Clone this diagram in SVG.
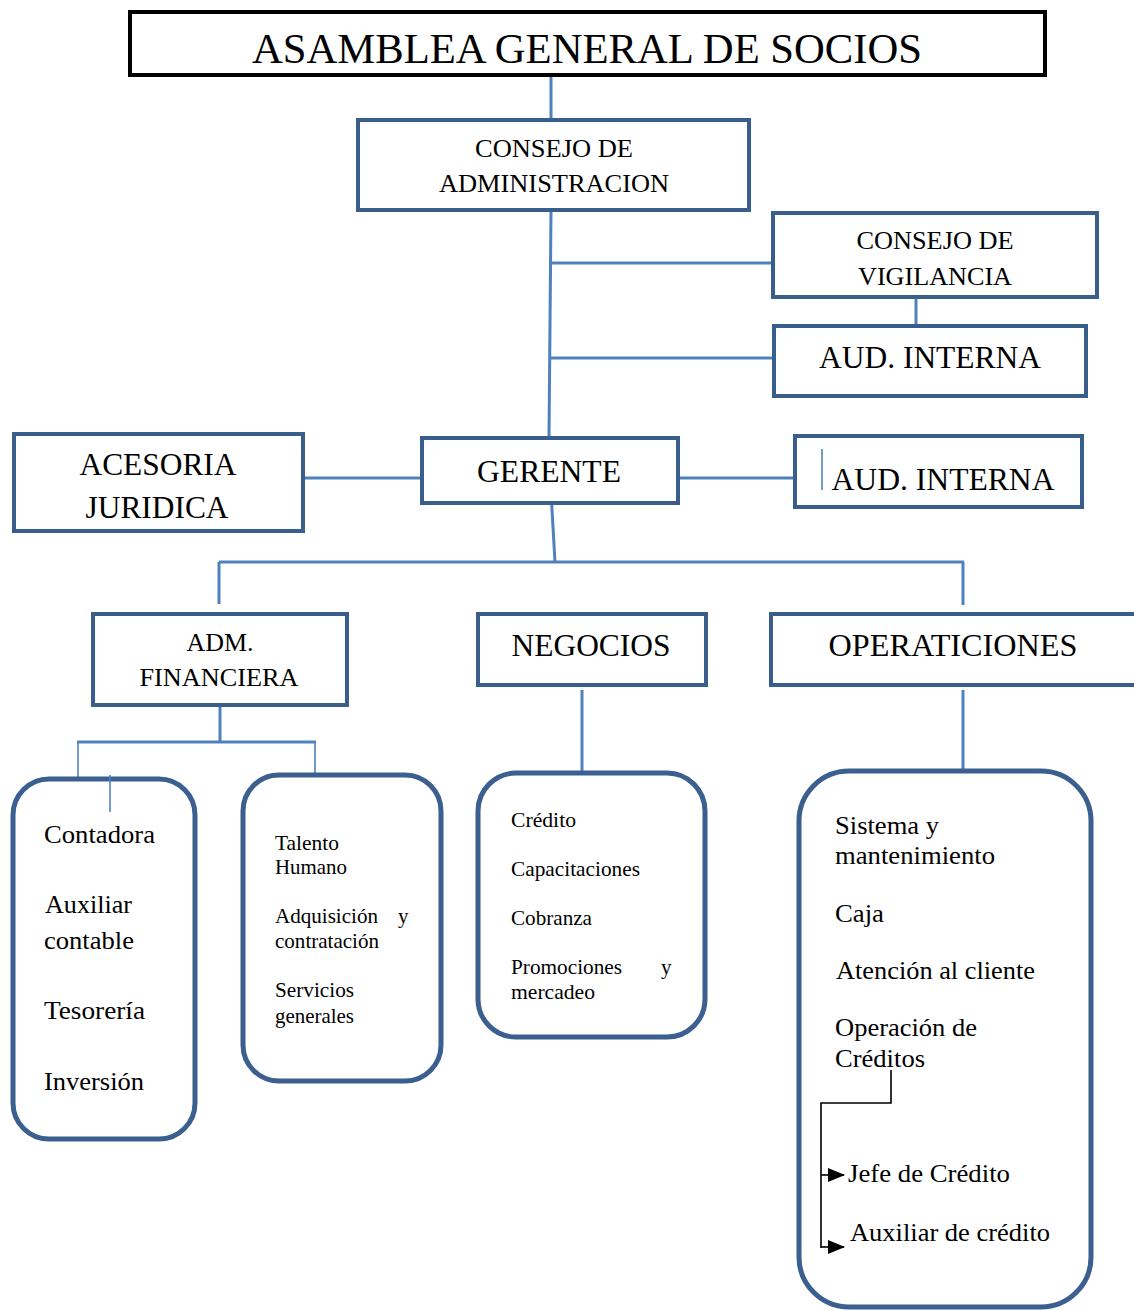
<svg xmlns="http://www.w3.org/2000/svg" width="1134" height="1310" viewBox="0 0 1134 1310" font-family="'Liberation Serif', 'Times New Roman', serif">
  <style>
    text { font-family: "Liberation Serif", "Times New Roman", serif; fill: #000; }
    .box { fill: #fff; stroke: #3a5e8c; stroke-width: 4; }
    .top { fill: #fff; stroke: #000; stroke-width: 4; }
    .round { fill: #fff; stroke: #3b5f8e; stroke-width: 5; }
    .link { fill: none; stroke: #4f81bd; stroke-width: 3; }
    .thin { fill: none; stroke: #4f81bd; stroke-width: 1.6; }
    .blk { fill: none; stroke: #000; stroke-width: 1.6; }
    .c { text-anchor: middle; }
    .s42 { font-size: 42px; }
    .s31 { font-size: 31px; }
    .s26 { font-size: 26px; }
    .s21 { font-size: 21px; }
  </style>
  <defs>
    <marker id="tri" markerWidth="17" markerHeight="14" refX="16" refY="7" orient="auto" markerUnits="userSpaceOnUse">
      <path d="M0,0 L17,7 L0,14 Z" fill="#000"/>
    </marker>
  </defs>

  <!-- connectors -->
  <g id="connectors">
    <line class="link" x1="551" y1="76" x2="551" y2="119"/>
    <line class="link" x1="551" y1="211" x2="549" y2="438"/>
    <line class="link" x1="549" y1="263" x2="773" y2="263"/>
    <line class="link" x1="916" y1="298" x2="916" y2="326"/>
    <line class="link" x1="550" y1="358" x2="774" y2="358"/>
    <line class="link" x1="303" y1="478" x2="422" y2="478"/>
    <line class="link" x1="678" y1="478" x2="795" y2="478"/>
    <line class="link" x1="551" y1="492" x2="555" y2="562"/>
    <line class="link" x1="219" y1="562" x2="964" y2="562"/>
    <line class="link" x1="219" y1="562" x2="219" y2="604"/>
    <line class="link" x1="963" y1="562" x2="963" y2="605"/>
    <line class="link" x1="220" y1="706" x2="220" y2="742"/>
    <line class="link" x1="77" y1="742" x2="316" y2="742"/>
    <line class="thin" x1="78" y1="742" x2="78" y2="780"/>
    <line class="thin" x1="315" y1="742" x2="315" y2="778"/>
    <line class="link" x1="582" y1="690" x2="582" y2="772"/>
    <line class="link" x1="963" y1="690" x2="963" y2="770"/>
  </g>

  <g id="asamblea">
    <rect class="top" x="130" y="12" width="915" height="63"/>
    <text class="c s42" x="587" y="63" textLength="670" lengthAdjust="spacingAndGlyphs">ASAMBLEA GENERAL DE SOCIOS</text>
  </g>

  <g id="consejo-admin">
    <rect class="box" x="358" y="120" width="391" height="90"/>
    <text class="c s26" x="554" y="157" textLength="158" lengthAdjust="spacingAndGlyphs">CONSEJO DE</text>
    <text class="c s26" x="554" y="192" textLength="230" lengthAdjust="spacingAndGlyphs">ADMINISTRACION</text>
  </g>

  <g id="consejo-vigilancia">
    <rect class="box" x="773" y="213" width="324" height="84"/>
    <text class="c s26" x="935" y="249" textLength="157" lengthAdjust="spacingAndGlyphs">CONSEJO DE</text>
    <text class="c s26" x="935" y="285" textLength="154" lengthAdjust="spacingAndGlyphs">VIGILANCIA</text>
  </g>

  <g id="aud-interna-1">
    <rect class="box" x="774" y="326" width="312" height="70"/>
    <text class="c s31" x="930" y="368" textLength="222" lengthAdjust="spacingAndGlyphs">AUD. INTERNA</text>
  </g>

  <g id="acesoria">
    <rect class="box" x="14" y="434" width="289" height="97"/>
    <text class="c s31" x="158" y="475" textLength="157" lengthAdjust="spacingAndGlyphs">ACESORIA</text>
    <text class="c s31" x="157" y="518" textLength="143" lengthAdjust="spacingAndGlyphs">JURIDICA</text>
  </g>

  <g id="gerente">
    <rect class="box" x="422" y="438" width="256" height="65"/>
    <text class="c s31" x="549" y="482" textLength="144" lengthAdjust="spacingAndGlyphs">GERENTE</text>
  </g>

  <g id="aud-interna-2">
    <rect class="box" x="795" y="436" width="287" height="71"/>
    <line class="thin" x1="822" y1="449" x2="822" y2="490"/>
    <text class="c s31" x="943" y="490" textLength="223" lengthAdjust="spacingAndGlyphs">AUD. INTERNA</text>
  </g>

  <g id="adm-financiera">
    <rect class="box" x="93" y="614" width="254" height="91"/>
    <text class="c s26" x="220" y="651" textLength="67" lengthAdjust="spacingAndGlyphs">ADM.</text>
    <text class="c s26" x="219" y="686" textLength="159" lengthAdjust="spacingAndGlyphs">FINANCIERA</text>
  </g>

  <g id="negocios">
    <rect class="box" x="478" y="614" width="228" height="71"/>
    <text class="c s31" x="591" y="656" textLength="159" lengthAdjust="spacingAndGlyphs">NEGOCIOS</text>
  </g>

  <g id="operaticiones">
    <rect class="box" x="771" y="614" width="370" height="71"/>
    <text class="c s31" x="953" y="656" textLength="249" lengthAdjust="spacingAndGlyphs">OPERATICIONES</text>
  </g>

  <g id="finanzas-lista">
    <rect class="round" x="13" y="779" width="182" height="360" rx="36"/>
    <line class="thin" x1="110" y1="775" x2="110" y2="812"/>
    <text class="s26" x="44" y="843" textLength="111" lengthAdjust="spacingAndGlyphs">Contadora</text>
    <text class="s26" x="45" y="913" textLength="87" lengthAdjust="spacingAndGlyphs">Auxiliar</text>
    <text class="s26" x="44" y="949" textLength="90" lengthAdjust="spacingAndGlyphs">contable</text>
    <text class="s26" x="44" y="1019" textLength="101" lengthAdjust="spacingAndGlyphs">Tesorería</text>
    <text class="s26" x="44" y="1090" textLength="100" lengthAdjust="spacingAndGlyphs">Inversión</text>
  </g>

  <g id="personal-lista">
    <rect class="round" x="243" y="775" width="198" height="306" rx="36"/>
    <text class="s21" x="275" y="850" textLength="64" lengthAdjust="spacingAndGlyphs">Talento</text>
    <text class="s21" x="275" y="874" textLength="72" lengthAdjust="spacingAndGlyphs">Humano</text>
    <text class="s21" x="275" y="923" textLength="103" lengthAdjust="spacingAndGlyphs">Adquisición</text>
    <text class="s21" x="398" y="923">y</text>
    <text class="s21" x="275" y="948" textLength="104" lengthAdjust="spacingAndGlyphs">contratación</text>
    <text class="s21" x="275" y="997" textLength="79" lengthAdjust="spacingAndGlyphs">Servicios</text>
    <text class="s21" x="275" y="1023" textLength="79" lengthAdjust="spacingAndGlyphs">generales</text>
  </g>

  <g id="negocios-lista">
    <rect class="round" x="478" y="773" width="227" height="264" rx="38"/>
    <text class="s21" x="511" y="827" textLength="65" lengthAdjust="spacingAndGlyphs">Crédito</text>
    <text class="s21" x="511" y="876" textLength="129" lengthAdjust="spacingAndGlyphs">Capacitaciones</text>
    <text class="s21" x="511" y="925" textLength="81" lengthAdjust="spacingAndGlyphs">Cobranza</text>
    <text class="s21" x="511" y="974" textLength="111" lengthAdjust="spacingAndGlyphs">Promociones</text>
    <text class="s21" x="661" y="974">y</text>
    <text class="s21" x="511" y="999" textLength="84" lengthAdjust="spacingAndGlyphs">mercadeo</text>
  </g>

  <g id="operaciones-lista">
    <rect class="round" x="799" y="771" width="292" height="536" rx="50"/>
    <text class="s26" x="835" y="834" textLength="104" lengthAdjust="spacingAndGlyphs">Sistema y</text>
    <text class="s26" x="835" y="864" textLength="160" lengthAdjust="spacingAndGlyphs">mantenimiento</text>
    <text class="s26" x="835" y="922" textLength="49" lengthAdjust="spacingAndGlyphs">Caja</text>
    <text class="s26" x="836" y="979" textLength="199" lengthAdjust="spacingAndGlyphs">Atención al cliente</text>
    <text class="s26" x="835" y="1036" textLength="142" lengthAdjust="spacingAndGlyphs">Operación de</text>
    <text class="s26" x="835" y="1067" textLength="90" lengthAdjust="spacingAndGlyphs">Créditos</text>
    <polyline class="blk" points="891,1070 891,1103 821,1103 821,1248"/>
    <line class="blk" x1="821" y1="1175" x2="844" y2="1175" marker-end="url(#tri)"/>
    <line class="blk" x1="821" y1="1247" x2="844" y2="1247" marker-end="url(#tri)"/>
    <text class="s26" x="848" y="1182" textLength="162" lengthAdjust="spacingAndGlyphs">Jefe de Crédito</text>
    <text class="s26" x="850" y="1241" textLength="200" lengthAdjust="spacingAndGlyphs">Auxiliar de crédito</text>
  </g>
</svg>
